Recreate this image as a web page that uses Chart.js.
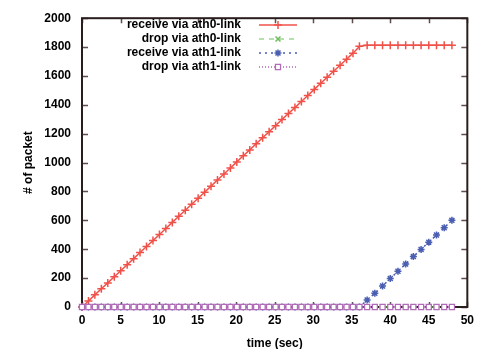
<!DOCTYPE html>
<html>
<head>
<meta charset="utf-8">
<script src="https://cdn.jsdelivr.net/npm/chart.js@4.4.0/dist/chart.umd.min.js"></script>
<style>
  html, body { margin: 0; padding: 0; background: #fff; }
</style>
</head>
<body>
<canvas id="chart" width="480" height="349"></canvas>
<script>
// sample times (sec) - denser sampling while ath0 is still receiving
const timeSec = [
  0, 0.84, 1.67, 2.51, 3.35, 4.19, 5.02, 5.86, 6.70, 7.53, 8.37, 9.21, 10.05, 10.88, 11.72,
  12.56, 13.40, 14.23, 15.07, 15.91, 16.74, 17.58, 18.42, 19.26, 20.09, 20.93, 21.77, 22.60,
  23.44, 24.28, 25.12, 25.95, 26.79, 27.63, 28.47, 29.30, 30.14, 30.98, 31.81, 32.65, 33.49,
  34.33, 35.16, 36.00,
  37, 38, 39, 40, 41, 42, 43, 44, 45, 46, 47, 48
];
const recvAth0 = [
  0, 42, 84, 126, 167, 209, 251, 293, 335, 377, 419, 460, 502, 544, 586,
  628, 670, 712, 753, 795, 837, 879, 921, 963, 1005, 1047, 1088, 1130,
  1172, 1214, 1256, 1298, 1340, 1381, 1423, 1465, 1507, 1549, 1591, 1633, 1674,
  1716, 1758, 1805,
  1812, 1812, 1812, 1812, 1812, 1812, 1812, 1812, 1812, 1812, 1812, 1812
];
const dropAth0 = [
  0, 0, 0, 0, 0, 0, 0, 0, 0, 0, 0, 0, 0, 0, 0, 0, 0, 0, 0, 0, 0, 0,
  0, 0, 0, 0, 0, 0, 0, 0, 0, 0, 0, 0, 0, 0, 0, 0, 0, 0, 0, 0, 0, 0,
  0, 0, 0, 0, 0, 0, 0, 0, 0, 0, 0, 0
];
const recvAth1 = [
  0, 0, 0, 0, 0, 0, 0, 0, 0, 0, 0, 0, 0, 0, 0, 0, 0, 0, 0, 0, 0, 0,
  0, 0, 0, 0, 0, 0, 0, 0, 0, 0, 0, 0, 0, 0, 0, 0, 0, 0, 0, 0, 0, 0,
  48, 95, 145, 197, 248, 298, 349, 399, 449, 499, 549, 600
];
const dropAth1 = [
  0, 0, 0, 0, 0, 0, 0, 0, 0, 0, 0, 0, 0, 0, 0, 0, 0, 0, 0, 0, 0, 0,
  0, 0, 0, 0, 0, 0, 0, 0, 0, 0, 0, 0, 0, 0, 0, 0, 0, 0, 0, 0, 0, 0,
  0, 0, 0, 0, 0, 0, 0, 0, 0, 0, 0, 0
];
const seriesNames = ['receive via ath0-link', 'drop via ath0-link', 'receive via ath1-link', 'drop via ath1-link'];

const FONT = { family: '"Liberation Sans", Arial, sans-serif', size: 12, weight: 'bold' };

const pts = ys => timeSec.map((t, i) => ({ x: t, y: ys[i] }));

// gnuplot-like border with inward, mirrored ticks
const framePlugin = {
  id: 'frame',
  beforeDatasetsDraw(chart) {
    const { ctx, chartArea: a, scales: { x, y } } = chart;
    ctx.save();
    ctx.strokeStyle = '#5e4e4e';
    ctx.lineWidth = 1.5;
    ctx.beginPath();
    x.ticks.forEach(t => {
      const px = Math.round(x.getPixelForValue(t.value)) + 0.5;
      ctx.moveTo(px, a.bottom); ctx.lineTo(px, a.bottom - 5);
      ctx.moveTo(px, a.top); ctx.lineTo(px, a.top + 5);
    });
    y.ticks.forEach(t => {
      const py = Math.round(y.getPixelForValue(t.value)) + 0.5;
      ctx.moveTo(a.left, py); ctx.lineTo(a.left + 6, py);
      ctx.moveTo(a.right, py); ctx.lineTo(a.right - 6, py);
    });
    ctx.stroke();
    ctx.strokeStyle = '#2a1d1d';
    ctx.lineWidth = 2;
    ctx.strokeRect(a.left, a.top, a.right - a.left, a.bottom - a.top);
    ctx.restore();
  }
};

// key in gnuplot style: right-aligned text, sample line to its right
const keyPlugin = {
  id: 'key',
  afterDatasetsDraw(chart) {
    const { ctx } = chart;
    ctx.save();
    chart.data.datasets.forEach((ds, i) => {
      const yy = 25 + i * 14;
      ctx.font = `${FONT.weight} ${FONT.size}px ${FONT.family}`;
      ctx.fillStyle = '#000';
      ctx.textAlign = 'right';
      ctx.textBaseline = 'middle';
      ctx.fillText(ds.label, 241, yy);
      ctx.strokeStyle = ds.borderColor;
      ctx.lineWidth = ds.borderWidth;
      ctx.setLineDash(ds.borderDash || []);
      ctx.beginPath();
      ctx.moveTo(259, yy); ctx.lineTo(297, yy);
      ctx.stroke();
      ctx.setLineDash([]);
      ctx.fillStyle = ds.pointBackgroundColor;
      ctx.strokeStyle = ds.pointBorderColor;
      ctx.lineWidth = ds.pointBorderWidth;
      Chart.helpers.drawPoint(ctx, {
        pointStyle: ds.pointStyle, radius: ds.pointRadius, rotation: 0,
        borderWidth: ds.pointBorderWidth
      }, 278, yy);
    });
    ctx.restore();
  }
};

new Chart(document.getElementById('chart'), {
  type: 'scatter',
  data: {
    datasets: [
      {
        label: seriesNames[0], data: pts(recvAth0), showLine: true, order: 3,
        borderColor: '#f0524a', borderWidth: 1.5,
        pointStyle: 'cross', pointRadius: 4, pointBorderWidth: 1.5,
        pointBorderColor: '#f0524a', pointBackgroundColor: '#f0524a'
      },
      {
        label: seriesNames[1], data: pts(dropAth0), showLine: true, order: 2,
        borderColor: '#6cbf5c', borderWidth: 1.2, borderDash: [5, 5],
        pointStyle: 'crossRot', pointRadius: 3.5, pointBorderWidth: 1.5,
        pointBorderColor: '#6cbf5c', pointBackgroundColor: '#6cbf5c'
      },
      {
        label: seriesNames[2], data: pts(recvAth1), showLine: true, order: 1,
        borderColor: '#4a5fb2', borderWidth: 1.5, borderDash: [2, 4],
        pointStyle: 'star', pointRadius: 3.5, pointBorderWidth: 1.5,
        pointBorderColor: '#4a5fb2', pointBackgroundColor: '#4a5fb2'
      },
      {
        label: seriesNames[3], data: pts(dropAth1), showLine: true, order: 0,
        borderColor: '#c98acb', borderWidth: 2, borderDash: [1, 2],
        pointStyle: 'rect', pointRadius: 3.6, pointBorderWidth: 1.3,
        pointBorderColor: '#b06cb6', pointBackgroundColor: '#ffffff'
      }
    ]
  },
  options: {
    responsive: false,
    animation: false,
    devicePixelRatio: 1,
    clip: false,
    layout: { padding: { top: 13, right: 4, left: 0, bottom: 0 } },
    elements: { line: { tension: 0 } },
    plugins: { legend: { display: false }, tooltip: { enabled: false } },
    scales: {
      x: {
        type: 'linear', min: 0, max: 50,
        ticks: { stepSize: 5, color: '#000', font: FONT, padding: 6, maxRotation: 0, callback: v => String(v) },
        grid: { display: false, drawTicks: false },
        border: { display: false },
        title: { display: true, text: 'time (sec)', color: '#000', font: FONT, padding: { top: 0, bottom: -2 } },
        afterFit: s => { s.height = 42; }
      },
      y: {
        min: 0, max: 2000,
        ticks: { stepSize: 200, color: '#000', font: FONT, padding: 11, callback: v => String(v) },
        grid: { display: false, drawTicks: false },
        border: { display: false },
        title: { display: true, text: '# of packet', color: '#000', font: FONT, padding: { top: 21, bottom: 0 } },
        afterFit: s => { s.width = 82; }
      }
    }
  },
  plugins: [framePlugin, keyPlugin]
});
</script>
</body>
</html>
